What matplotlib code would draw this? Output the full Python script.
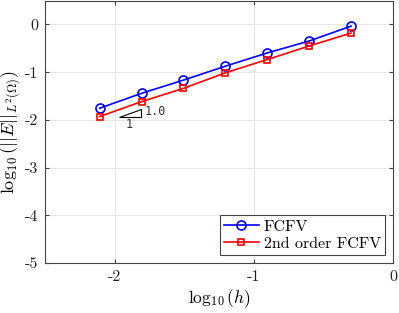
import numpy as np
import matplotlib
matplotlib.use("Agg")
import matplotlib.pyplot as plt
from matplotlib.patches import Polygon

plt.rcParams['mathtext.fontset'] = 'cm'

h = [1/128, 1/64, 1/32, 1/16, 1/8, 1/4, 1/2]
err_fcfv = [-1.756, -1.444, -1.167, -0.875, -0.597, -0.347, -0.035]
err_2nd = [-1.931, -1.618, -1.340, -1.014, -0.736, -0.451, -0.180]
xticks = [-2, -1, 0]
yticks = [0, -1, -2, -3, -4, -5]
labels = ['FCFV', '2nd order FCFV']

logh = np.log10(h)

fig = plt.figure(figsize=(3.99, 3.13), dpi=100)
ax = fig.add_axes([0.1128, 0.16, 0.872, 0.838])

ax.plot(logh, err_fcfv, '-o', color='#0000ff', lw=1.2, ms=6.5, mfc='none', mew=1.2, label=labels[0])
ax.plot(logh, err_2nd, '-s', color='#ff0000', lw=1.2, ms=4.5, mfc='none', mew=1.2, label=labels[1])

# slope triangle
x0, x1 = -1.971, -1.813
y0 = -1.931
tri = Polygon([[x0, y0], [x1, y0], [x1, y0 + (x1 - x0)]], closed=True,
              facecolor='white', edgecolor='black', lw=0.8)
ax.add_patch(tri)
ax.text(x1 + 0.03, y0 + 0.1, '1.0', family='DejaVu Sans Mono', fontsize=8.5, va='center', ha='left', color='#333333')
ax.text((x0 + x1) / 2, y0 - 0.17, '1', family='DejaVu Sans Mono', fontsize=8.5, va='center', ha='center', color='#333333')

ax.set_xlim(-2.5, 0)
ax.set_ylim(-5, 0.5)
ax.set_xticks(xticks)
ax.set_yticks(yticks)
ax.set_xticklabels([str(t) for t in xticks], family='cmr10', fontsize=11.5)
ax.set_yticklabels([str(t) for t in yticks], family='cmr10', fontsize=11.5)
ax.grid(True, color='#e6e6e6', lw=0.7)
ax.set_axisbelow(True)
ax.tick_params(direction='in', top=True, right=True, length=3, color='#444444', labelcolor='#222222', pad=5)
for s in ax.spines.values():
    s.set_color('#444444')
    s.set_linewidth(0.8)

ax.set_xlabel(r'$\log_{10}(h)$', fontsize=12.5, labelpad=3)
ax.set_ylabel(r'$\log_{10}(||E||_{L^2(\Omega)})$', fontsize=13, labelpad=1)

leg = ax.legend(loc='lower right', prop={'family': 'cmr10', 'size': 11.5},
                fancybox=False, edgecolor='#444444', framealpha=1, handlelength=2.2,
                borderpad=0.25, labelspacing=0.2, handletextpad=0.3, borderaxespad=0.5)
leg.get_frame().set_linewidth(0.8)

fig.savefig('out.png', dpi=100)
